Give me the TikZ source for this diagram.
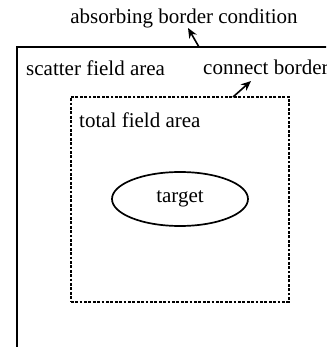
\documentclass[tikz,border=0pt]{standalone}
\usepackage{fontspec}
\setmainfont{Liberation Serif}
\usetikzlibrary{arrows.meta,shapes.geometric}
\begin{document}
\begin{tikzpicture}[x=1pt,y=-1pt,
  lbl/.style={anchor=base west,inner sep=0pt,font=\fontsize{21}{24}\selectfont},
  ptr/.style={line width=1.6pt,-{Stealth[length=10pt,width=8.5pt]}},
  border/.style={draw,line width=2.2pt},
  dotbox/.style={draw,line width=1.7pt,dash pattern=on 2.8pt off 1.6pt}]
  \useasboundingbox (0,0) rectangle (326,347);
  \clip (0,0) rectangle (326,347);
  % outer region (absorbing border), extending past the frame
  \draw[border] (17,47) rectangle (360,380);
  % inner dotted region (total field)
  \node[dotbox,minimum width=218pt,minimum height=205pt,inner sep=0pt,anchor=north west] (inner) at (70,96) {};
  % target
  \node[draw,ellipse,line width=1.7pt,minimum width=136pt,minimum height=54pt,inner sep=0pt,
        font=\fontsize{21}{24}\selectfont] (target) at (180,199) {target};
  % labels
  \node[lbl,anchor=base] (abs) at (184,24) {absorbing border condition};
  \node[lbl] (scatter) at (26,76) {scatter field area};
  \node[lbl] (connect) at (203,75) {connect border};
  \node[lbl] (total) at (79,128) {total field area};
  % pointers
  \coordinate (absTail) at (199,47);
  \coordinate (absTip) at (188,28);
  \coordinate (conTail) at (233,97);
  \coordinate (conTip) at (251,81);
  \draw[ptr] (absTail) -- (absTip);
  \draw[ptr] (conTail) -- (conTip);
\end{tikzpicture}
\end{document}
